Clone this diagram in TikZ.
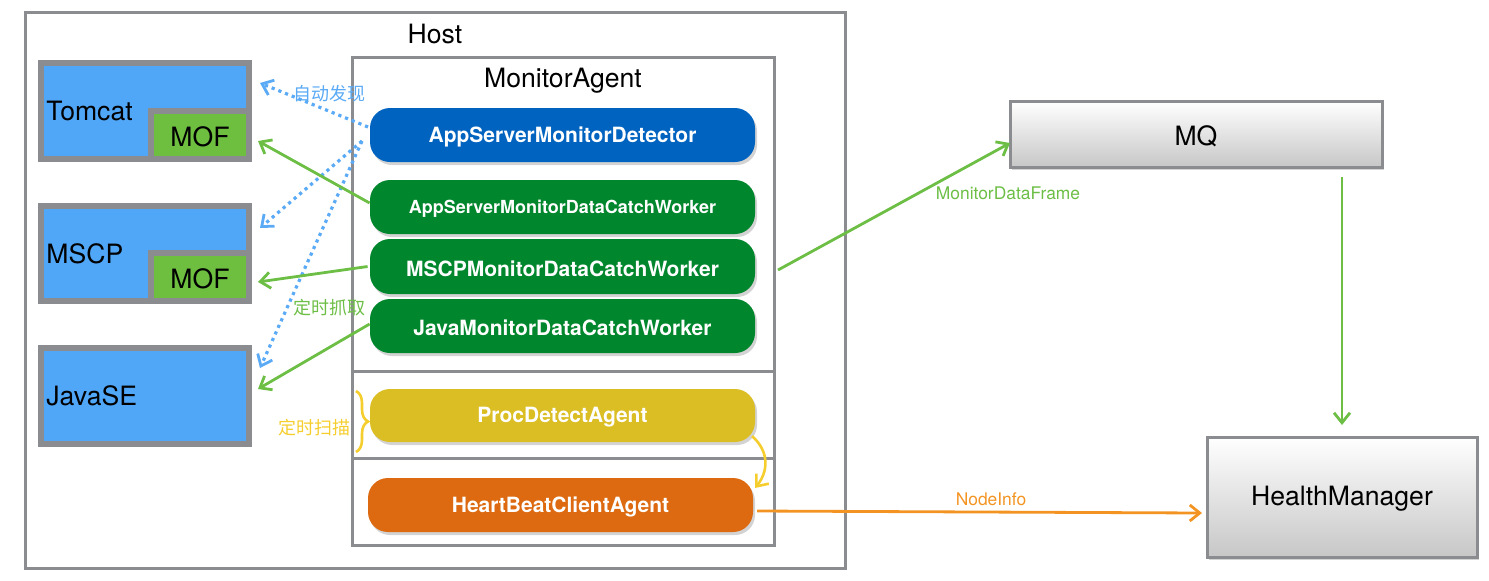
\documentclass[tikz,border=0pt]{standalone}
\usepackage{fontspec}
\setmainfont{TeX Gyre Heros}
\newfontfamily\cjk{Noto Sans CJK SC}
\usetikzlibrary{arrows.meta,shadows,fit,decorations.pathreplacing}
\definecolor{hgray}{HTML}{8A8C8F}
\definecolor{boxblue}{HTML}{50A6F7}
\definecolor{mofgreen}{HTML}{6EBE40}
\definecolor{pillblue}{HTML}{0063C0}
\definecolor{pillgreen}{HTML}{00862C}
\definecolor{pillyellow}{HTML}{DBBE24}
\definecolor{pillorange}{HTML}{DD6A10}
\definecolor{arrgreen}{HTML}{6CBE45}
\definecolor{dotblue}{HTML}{5AAAF5}
\definecolor{braceyellow}{HTML}{F5CE2E}
\definecolor{arrorange}{HTML}{F39422}
\tikzset{
  frame/.style={draw=hgray, line width=1.5pt, inner sep=0pt},
  appbox/.style={draw=hgray, line width=3pt, fill=boxblue, inner sep=0pt},
  mofbox/.style={draw=hgray, line width=3pt, fill=mofgreen, inner sep=0pt},
  pill/.style={rounded corners=10pt, inner sep=0pt,
    drop shadow={opacity=0.35, shadow xshift=1pt, shadow yshift=-1.5pt}},
  ptext/.style={text=white, inner sep=0pt, yshift=-1pt, font=\bfseries\fontsize{10.5}{12}\selectfont},
  srv/.style={draw=hgray, line width=1.5pt, inner sep=0pt, top color=white, bottom color=black!22,
    drop shadow={opacity=0.35, shadow xshift=1pt, shadow yshift=-1.5pt}},
  big/.style={inner sep=0pt, font=\fontsize{13.3}{15}\selectfont},
  ctext/.style={big, yshift=-1pt},
  garrow/.style={draw=arrgreen, line width=1.4pt, -{Straight Barb[length=5pt,width=8pt,line width=1.4pt]}},
  barrow/.style={draw=dotblue, line width=1.6pt, dotted, -{Straight Barb[length=5pt,width=8pt,line width=1.4pt]}},
  lbl/.style={inner sep=0pt, font=\cjk\fontsize{9}{10}\selectfont},
  elbl/.style={inner sep=0pt, font=\fontsize{8.7}{10}\selectfont},
}
\begin{document}
\begin{tikzpicture}[x=0.5pt,y=-0.5pt]
\useasboundingbox (0,0) rectangle (1489,580);
% Host
\node[frame, fit={(25,12) (845,568)}] (host) {};
\node[big, anchor=base] (hostt) at (435,43) {Host};
% MonitorAgent
\node[frame, fit={(352,57) (774,545)}] (ma) {};
\coordinate (d1l) at (352,371); \coordinate (d1r) at (774,371);
\coordinate (d2l) at (352,458); \coordinate (d2r) at (774,458);
\draw[hgray, line width=1.5pt] (d1l) -- (d1r) (d2l) -- (d2r);
\node[big, anchor=base] (mat) at (563,87) {MonitorAgent};
% app servers
\node[appbox, fit={(41,63) (249,159)}] (tomcat) {};
\node[mofbox, fit={(151,111) (249,159)}] (mof1) {};
\node[ctext] (mof1t) at (mof1.center) {MOF};
\node[big, anchor=base west] (tomcatt) at (46,120) {Tomcat};
\node[appbox, fit={(41,206) (249,301)}] (mscp) {};
\node[mofbox, fit={(151,253) (249,301)}] (mof2) {};
\node[ctext] (mof2t) at (mof2.center) {MOF};
\node[big, anchor=base west] (mscpt) at (46,263) {MSCP};
\node[appbox, fit={(41,348) (249,444)}] (javase) {};
\node[big, anchor=base west] (javat) at (46,405) {JavaSE};
% pills
\node[pill, fill=pillblue, fit={(370,108) (755,162)}] (det) {};
\node[ptext] (dett) at (det.center) {AppServerMonitorDetector};
\node[pill, fill=pillgreen, fit={(370,180) (755,234)}] (w1) {};
\node[ptext, font=\bfseries\fontsize{9}{10}\selectfont] (w1t) at (w1.center) {AppServerMonitorDataCatchWorker};
\node[pill, fill=pillgreen, fit={(370,239) (755,294)}] (w2) {};
\node[ptext] (w2t) at (w2.center) {MSCPMonitorDataCatchWorker};
\node[pill, fill=pillgreen, fit={(370,299) (755,353)}] (w3) {};
\node[ptext] (w3t) at (w3.center) {JavaMonitorDataCatchWorker};
\node[pill, fill=pillyellow, fit={(370,389) (755,442)}] (proc) {};
\node[ptext] (proct) at (proc.center) {ProcDetectAgent};
\node[pill, fill=pillorange, fit={(368,478) (753,532)}] (hb) {};
\node[ptext] (hbt) at (hb.center) {HeartBeatClientAgent};
% servers
\node[srv, fit={(1010,101) (1382,167)}] (mq) {};
\node[ctext] (mqt) at (mq.center) {MQ};
\node[srv, fit={(1207,437) (1477,557)}] (hm) {};
\node[ctext] (hmt) at (hm.center) {HealthManager};
% coordinates for arrows
\coordinate (t1) at (260,83);
\coordinate (t2) at (260,228);
\coordinate (t3) at (260,368);
\coordinate (s1) at (368,127);
\coordinate (s2) at (362,141);
\coordinate (g1) at (258,141);
\coordinate (g2) at (258,282);
\coordinate (g3) at (258,389);
% blue dotted
\draw[barrow] (s1) -- (t1);
\draw[barrow] (s2) -- (t2);
\draw[barrow] (s2) -- (t3);
\node[lbl, text=dotblue] (l1) at (329,94) {自动发现};
% green
\draw[garrow] (w1.west) ++(0,-4) -- (g1);
\draw[garrow] (w2.west) ++(-2,0) -- (g2);
\draw[garrow] (w3.west) ++(0,-2) -- (g3);
\node[lbl, text=arrgreen] (l2) at (329,308) {定时抓取};
% brace
\draw[braceyellow, line width=1.3pt, decorate, decoration={brace, amplitude=6pt}] (356,391) -- (356,452);
\node[lbl, text=braceyellow] (l3) at (314,428) {定时扫描};
% yellow curved
\coordinate (ys) at (752,436);
\coordinate (ye) at (755,488);
\draw[braceyellow, line width=1.3pt, -{Straight Barb[length=5pt,width=8pt,line width=1.3pt]}] (ys) .. controls (770,452) and (768,472) .. (ye);
% to MQ
\coordinate (ms) at (778,270);
\coordinate (me) at (1010,143);
\draw[garrow] (ms) -- (me);
\node[elbl, text=arrgreen] (l4) at (1008,193) {MonitorDataFrame};
% MQ to HM
\coordinate (q1) at (1342,177);
\coordinate (q2) at (1342,425);
\draw[garrow] (q1) -- (q2);
% heartbeat
\coordinate (h1) at (757,511);
\coordinate (h2) at (1202,513);
\draw[draw=arrorange, line width=1.4pt, -{Straight Barb[length=5pt,width=8pt,line width=1.4pt]}] (h1) -- (h2);
\node[elbl, text=arrorange] (l5) at (991,499) {NodeInfo};
\end{tikzpicture}
\end{document}
